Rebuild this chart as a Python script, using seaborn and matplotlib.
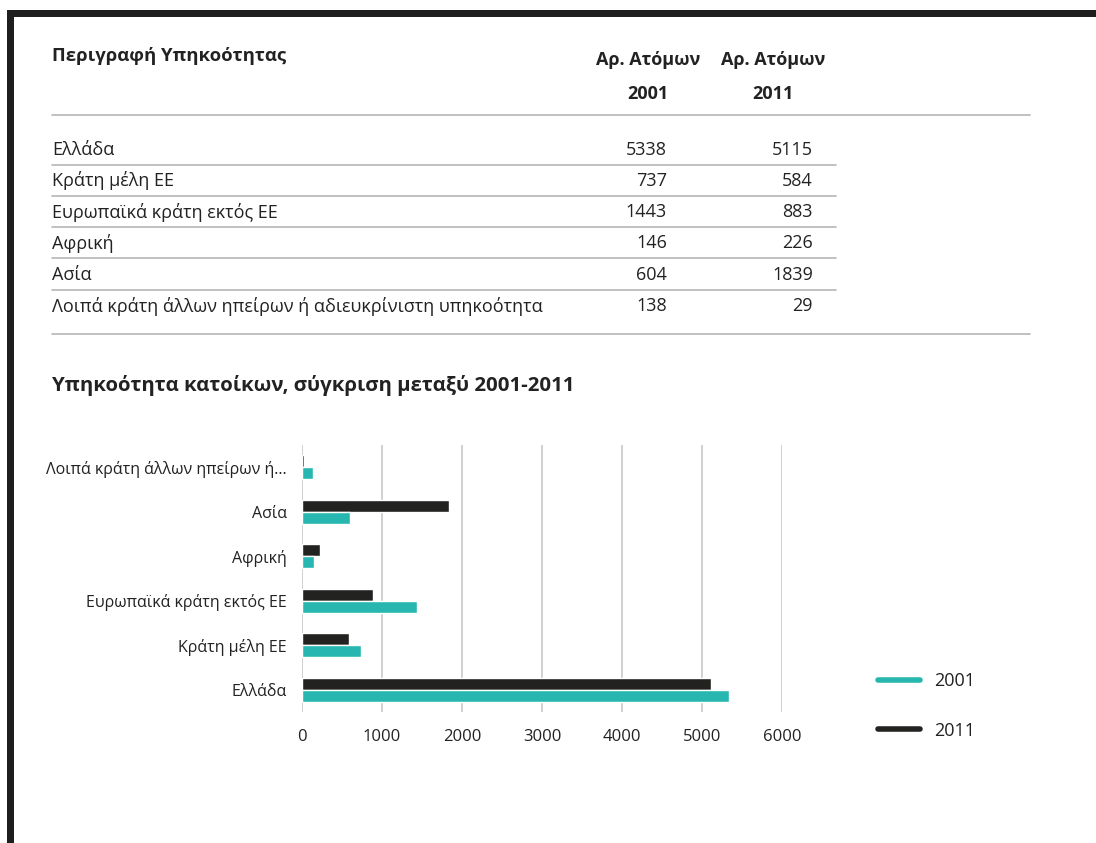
import pandas as pd
import seaborn as sns
import matplotlib.pyplot as plt
from matplotlib.lines import Line2D
from matplotlib.patches import Rectangle

# Δεδομένα
categories = ['Ελλάδα', 'Κράτη μέλη ΕΕ', 'Ευρωπαϊκά κράτη εκτός ΕΕ', 'Αφρική', 'Ασία',
              'Λοιπά κράτη άλλων ηπείρων ή αδιευκρίνιστη υπηκοότητα']
chart_labels = ['Ελλάδα', 'Κράτη μέλη ΕΕ', 'Ευρωπαϊκά κράτη εκτός ΕΕ', 'Αφρική', 'Ασία',
                'Λοιπά κράτη άλλων ηπείρων ή...']
values_2001 = [5338, 737, 1443, 146, 604, 138]
values_2011 = [5115, 584, 883, 226, 1839, 29]
years = ['2001', '2011']
x_ticks = [0, 1000, 2000, 3000, 4000, 5000, 6000]

teal = '#27b7b0'
dark = '#222220'
text_col = '#222222'

sns.set_style('white')
plt.rcParams['font.family'] = ['Open Sans', 'DejaVu Sans']

fig = plt.figure(figsize=(10.96, 8.43), dpi=100)

def fx(px):
    return px / 1096

def fy(py):
    return 1 - py / 843

# Πλαίσιο
fig.add_artist(Rectangle((fx(7), fy(843)), fx(7), fy(10) - fy(843), transform=fig.transFigure,
                         color='#1e1e1e', lw=0))
fig.add_artist(Rectangle((fx(7), fy(17)), fx(1096) - fx(7), fy(10) - fy(17), transform=fig.transFigure,
                         color='#1e1e1e', lw=0))

# Πίνακας
fig.text(fx(52), fy(56), 'Περιγραφή Υπηκοότητας', fontsize=13.3, fontweight='bold',
         color=text_col, va='center')
for cx, yr in zip([648, 773], years):
    fig.text(fx(cx), fy(60), 'Αρ. Ατόμων', fontsize=13, fontweight='bold', color=text_col,
             ha='center', va='center')
    fig.text(fx(cx), fy(94), yr, fontsize=13, fontweight='bold', color=text_col,
             ha='center', va='center')

fig.add_artist(Line2D([fx(52), fx(1030)], [fy(115), fy(115)], transform=fig.transFigure,
                      color='#b5b5b5', lw=1.2))

row_y = [150, 181, 212, 243, 275, 306]
for i, (name, v1, v2) in enumerate(zip(categories, values_2001, values_2011)):
    y = row_y[i]
    fig.text(fx(52), fy(y), name, fontsize=13, color=text_col, va='center')
    fig.text(fx(667), fy(y), str(v1), fontsize=13, color=text_col, va='center', ha='right')
    fig.text(fx(813), fy(y), str(v2), fontsize=13, color=text_col, va='center', ha='right')
    if i < len(categories) - 1:
        fig.add_artist(Line2D([fx(52), fx(836)], [fy(y + 15), fy(y + 15)], transform=fig.transFigure,
                              color='#b5b5b5', lw=1.2))
fig.add_artist(Line2D([fx(52), fx(1030)], [fy(334), fy(334)], transform=fig.transFigure,
                      color='#b5b5b5', lw=1.2))

fig.text(fx(52), fy(385), 'Υπηκοότητα κατοίκων, σύγκριση μεταξύ 2001-2011', fontsize=14.7,
         fontweight='bold', color=text_col, va='center')

# Γράφημα
df = pd.DataFrame({
    'label': chart_labels * 2,
    'year': ['2001'] * len(chart_labels) + ['2011'] * len(chart_labels),
    'value': values_2001 + values_2011,
})

ax = fig.add_axes([fx(302), fy(712), fx(782) - fx(302), fy(445) - fy(712)])
sns.barplot(data=df, y='label', x='value', hue='year', order=chart_labels[::-1],
            hue_order=['2011', '2001'], palette={'2001': teal, '2011': dark},
            orient='h', width=0.55, ax=ax, legend=False, saturation=1)

ax.set_xlim(0, 6000)
ax.set_xticks(x_ticks)
ax.set_xticklabels([str(t) for t in x_ticks])
ax.grid(axis='x', color='#c8c8c8', lw=1.2)
ax.set_axisbelow(True)
ax.set_xlabel('')
ax.set_ylabel('')
for s in ax.spines.values():
    s.set_visible(False)
ax.tick_params(axis='x', length=0, pad=12, labelsize=12, labelcolor=text_col)
ax.tick_params(axis='y', length=0, pad=11, labelsize=11.5, labelcolor=text_col)

handles = [Line2D([0], [0], color=teal, lw=4, solid_capstyle='round'),
           Line2D([0], [0], color=dark, lw=4, solid_capstyle='round')]
fig.legend(handles, years, loc='upper left', bbox_to_anchor=(fx(869), fy(663)),
           frameon=False, fontsize=13, handlelength=2.3, handletextpad=0.8,
           labelspacing=1.75, borderpad=0, labelcolor=text_col)

fig.savefig('out.png', dpi=100, facecolor='white')
